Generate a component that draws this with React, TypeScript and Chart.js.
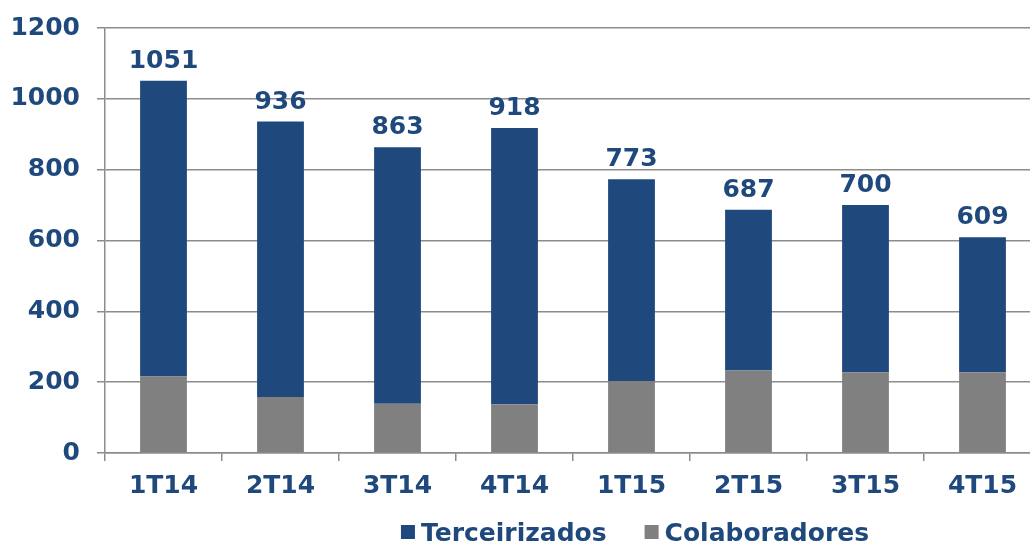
import React, { useEffect, useRef } from "react";
import { Chart, registerables } from "chart.js";

Chart.register(...registerables);

const categories = ["1T14", "2T14", "3T14", "4T14", "1T15", "2T15", "3T15", "4T15"];
const colaboradores = [216, 158, 139, 138, 203, 233, 228, 228];
const terceirizados = [835, 778, 724, 780, 570, 454, 472, 381];
const yTicks = [0, 200, 400, 600, 800, 1000, 1200];

const BLUE = "#1F497D";
const GRAY = "#808080";
const GRID = "#8C8C8C";
const TEXT = "#1F497D";
const FONT = "'DejaVu Sans', Verdana, sans-serif";
const FONT_SIZE = 25;

const totalsPlugin = {
  id: "totals",
  afterDatasetsDraw(chart: any) {
    const ctx = chart.ctx;
    const last = chart.data.datasets.length - 1;
    const meta = chart.getDatasetMeta(last);
    ctx.save();
    ctx.font = `bold ${FONT_SIZE}px ${FONT}`;
    ctx.fillStyle = TEXT;
    ctx.textAlign = "center";
    ctx.textBaseline = "alphabetic";
    meta.data.forEach((bar: any, i: number) => {
      const total = chart.data.datasets.reduce(
        (s: number, ds: any) => s + (ds.data[i] as number),
        0
      );
      ctx.fillText(String(total), bar.x, bar.y - 13);
    });
    ctx.restore();
  },
};

const legendPlugin = {
  id: "customLegend",
  afterDraw(chart: any) {
    const ctx = chart.ctx;
    const items = [...chart.data.datasets].reverse();
    ctx.save();
    ctx.font = `bold ${FONT_SIZE}px ${FONT}`;
    ctx.textAlign = "left";
    ctx.textBaseline = "alphabetic";
    const box = 14;
    const gapText = 6;
    const gapItem = 38;
    const widths = items.map((ds: any) => ctx.measureText(ds.label).width);
    const total =
      widths.reduce((s: number, w: number) => s + box + gapText + w, 0) +
      gapItem * (items.length - 1);
    const centerX = 635;
    const baseline = chart.height - 1;
    let x = centerX - total / 2;
    items.forEach((ds: any, i: number) => {
      ctx.fillStyle = ds.backgroundColor;
      ctx.fillRect(x, baseline - 16, box, box);
      ctx.fillStyle = TEXT;
      ctx.fillText(ds.label, x + box + gapText, baseline);
      x += box + gapText + widths[i] + gapItem;
    });
    ctx.restore();
  },
};

export default function App() {
  const ref = useRef<HTMLCanvasElement | null>(null);

  useEffect(() => {
    if (!ref.current) return;
    const chart = new Chart(ref.current, {
      type: "bar",
      data: {
        labels: categories,
        datasets: [
          {
            label: "Colaboradores",
            data: colaboradores,
            backgroundColor: GRAY,
            borderWidth: 0,
          },
          {
            label: "Terceirizados",
            data: terceirizados,
            backgroundColor: BLUE,
            borderWidth: 0,
          },
        ],
      },
      options: {
        responsive: false,
        animation: false,
        maintainAspectRatio: false,
        layout: { padding: { top: 28, right: 4, left: 0, bottom: 0 } },
        datasets: {
          bar: { categoryPercentage: 1, barPercentage: 0.4 },
        },
        plugins: {
          legend: { display: false },
          tooltip: { enabled: false },
        },
        scales: {
          x: {
            stacked: true,
            afterFit: (s: any) => {
              s.height = 89;
              s.paddingLeft = 0;
              s.paddingRight = 0;
            },
            grid: {
              display: true,
              drawOnChartArea: false,
              offset: true,
              tickLength: 8,
              color: GRID,
              lineWidth: 1.5,
            },
            border: { display: true, color: GRID, width: 1.5 },
            ticks: {
              color: TEXT,
              padding: 10,
              maxRotation: 0,
              font: { family: FONT, size: FONT_SIZE, weight: "bold" },
            },
          },
          y: {
            stacked: true,
            min: yTicks[0],
            max: yTicks[yTicks.length - 1],
            afterFit: (s: any) => {
              s.width = 105;
              s.paddingTop = 0;
              s.paddingBottom = 0;
            },
            afterBuildTicks: (s: any) => {
              s.ticks = yTicks.map((v) => ({ value: v }));
            },
            grid: {
              color: GRID,
              lineWidth: 1.5,
              tickLength: 8,
            },
            border: { display: true, color: GRID, width: 1.5 },
            ticks: {
              color: TEXT,
              padding: 17,
              callback: (v: any) => String(v),
              font: { family: FONT, size: FONT_SIZE, weight: "bold" },
            },
          },
        },
      },
      plugins: [totalsPlugin, legendPlugin],
    });
    return () => chart.destroy();
  }, []);

  return (
    <div
      style={{
        position: "fixed",
        left: 0,
        top: 0,
        width: 1030,
        height: 542,
        overflow: "hidden",
        background: "#fff",
      }}
    >
      <canvas ref={ref} width={1045} height={542} style={{ width: 1045, height: 542, display: "block" }} />
    </div>
  );
}
